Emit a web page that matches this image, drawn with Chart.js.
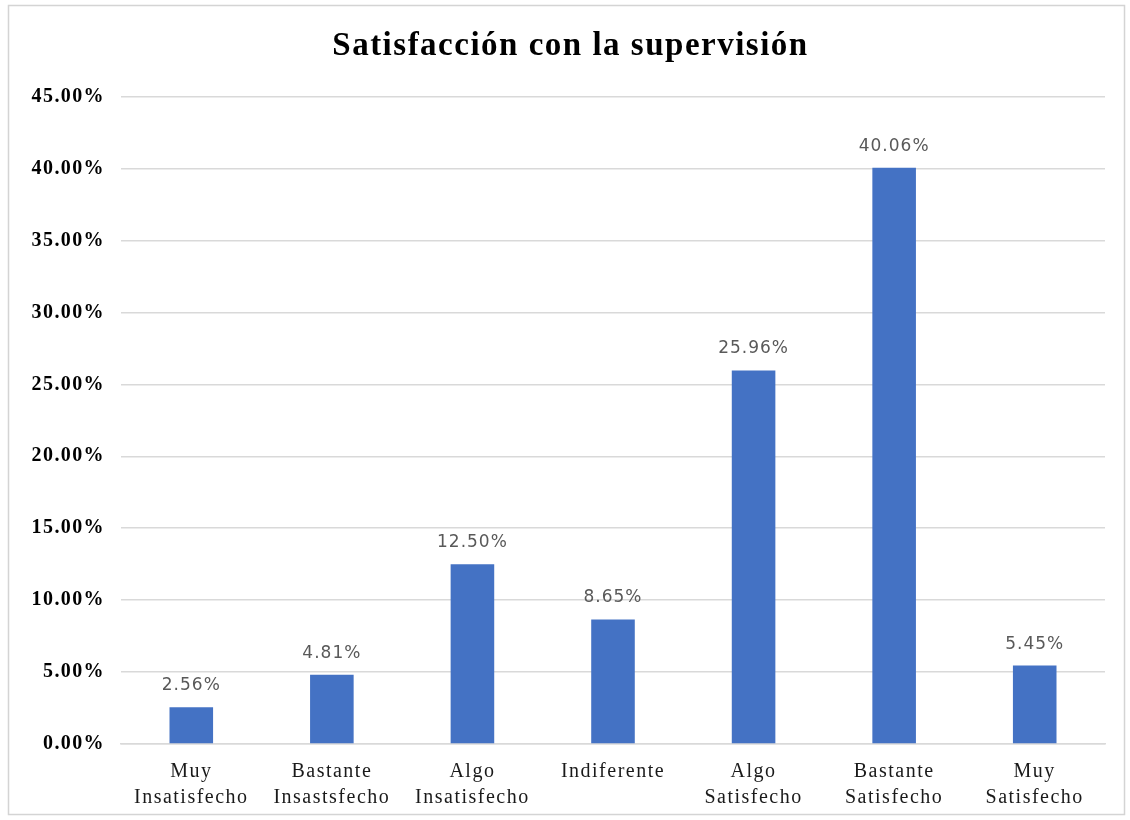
<!DOCTYPE html>
<html>
<head>
<meta charset="utf-8">
<title>Satisfacción con la supervisión</title>
<script src="https://cdn.jsdelivr.net/npm/chart.js@4"></script>
<style>
  html, body { margin: 0; padding: 0; background: #fff; }
  #wrap { width: 1130px; height: 820px; position: relative; }
</style>
</head>
<body>
<div id="wrap"><canvas id="supervisionChart" width="1130" height="820"></canvas></div>
<script>
var categorias = [
	["Muy", "Insatisfecho"],
	["Bastante", "Insastsfecho"],
	["Algo", "Insatisfecho"],
	"Indiferente",
	["Algo", "Satisfecho"],
	["Bastante", "Satisfecho"],
	["Muy", "Satisfecho"]
];
var porcentajes = [2.56, 4.81, 12.5, 8.65, 25.96, 40.06, 5.45];
var ejeY = { min: 0, max: 45, paso: 5 };

function formatoPct(v) {
	return v.toFixed(2) + "%";
}

// el texto del gráfico va algo espaciado (el canvas pierde el estado al redimensionarse)
var espaciado = {
	id: "espaciado",
	beforeUpdate: function (chart) { chart.ctx.letterSpacing = "1.5px"; },
	beforeDraw: function (chart) { chart.ctx.letterSpacing = "1.5px"; }
};

// marco gris alrededor del gráfico
var marco = {
	id: "marco",
	beforeDraw: function (chart) {
		var ctx = chart.ctx;
		ctx.save();
		ctx.fillStyle = "#ffffff";
		ctx.fillRect(0, 0, chart.width, chart.height);
		ctx.strokeStyle = "#d4d4d4";
		ctx.lineWidth = 1.5;
		ctx.strokeRect(8.5, 5.5, chart.width - 14, chart.height - 11);
		ctx.restore();
	}
};

// textos del eje Y en negrita, a partir de los ticks de la escala
var textosEjeY = {
	id: "textosEjeY",
	afterDraw: function (chart) {
		var ctx = chart.ctx;
		var y = chart.scales.y;
		ctx.save();
		ctx.letterSpacing = "1.4px";
		ctx.font = "bold 20px 'Liberation Serif'";
		ctx.fillStyle = "#000";
		ctx.textAlign = "right";
		ctx.textBaseline = "middle";
		y.ticks.forEach(function (t, i) {
			ctx.fillText(formatoPct(t.value), chart.chartArea.left - 16, y.getPixelForTick(i));
		});
		ctx.restore();
	}
};

// etiquetas con el valor encima de cada barra
var etiquetas = {
	id: "etiquetas",
	afterDatasetsDraw: function (chart) {
		var ctx = chart.ctx;
		var meta = chart.getDatasetMeta(0);
		ctx.save();
		ctx.letterSpacing = "1px";
		ctx.font = "17px 'DejaVu Sans'";
		ctx.fillStyle = "#595959";
		ctx.textAlign = "center";
		ctx.textBaseline = "bottom";
		meta.data.forEach(function (bar, i) {
			var v = chart.data.datasets[0].data[i];
			ctx.fillText(formatoPct(v), bar.x, bar.y - 13);
		});
		ctx.restore();
	}
};

var chart = new Chart(document.getElementById("supervisionChart").getContext("2d"), {
	type: "bar",
	data: {
		labels: categorias,
		datasets: [
			{
				label: "Satisfacción",
				data: porcentajes,
				backgroundColor: "#4472c4",
				borderWidth: 0,
				barPercentage: 0.31,
				categoryPercentage: 1
			}
		]
	},
	options: {
		responsive: false,
		animation: false,
		layout: { padding: { left: 36, right: 25, top: 19, bottom: 2 } },
		plugins: {
			legend: { display: false },
			tooltip: { enabled: false },
			title: {
				display: true,
				text: "Satisfacción con la supervisión",
				color: "#000",
				font: { family: "'Liberation Serif'", size: 33, weight: "bold", lineHeight: 1.2 },
				padding: { top: 8, bottom: 30 }
			}
		},
		scales: {
			x: {
				grid: { display: false },
				border: { display: true, color: "#d9d9d9", width: 1.5 },
				ticks: {
					color: "#1a1a1a",
					font: { family: "'Liberation Serif'", size: 20, lineHeight: 1.3 },
					maxRotation: 0,
					autoSkip: false,
					padding: 7
				}
			},
			y: {
				min: ejeY.min,
				max: ejeY.max,
				grid: { color: "#d9d9d9", lineWidth: 1.5, drawTicks: false },
				border: { display: false },
				afterFit: function (scale) { scale.width = 85; },
				ticks: {
					stepSize: ejeY.paso,
					color: "rgba(0,0,0,0)",
					font: { family: "'Liberation Serif'", size: 20, weight: "bold" },
					callback: formatoPct
				}
			}
		}
	},
	plugins: [espaciado, marco, textosEjeY, etiquetas]
});
</script>
</body>
</html>
